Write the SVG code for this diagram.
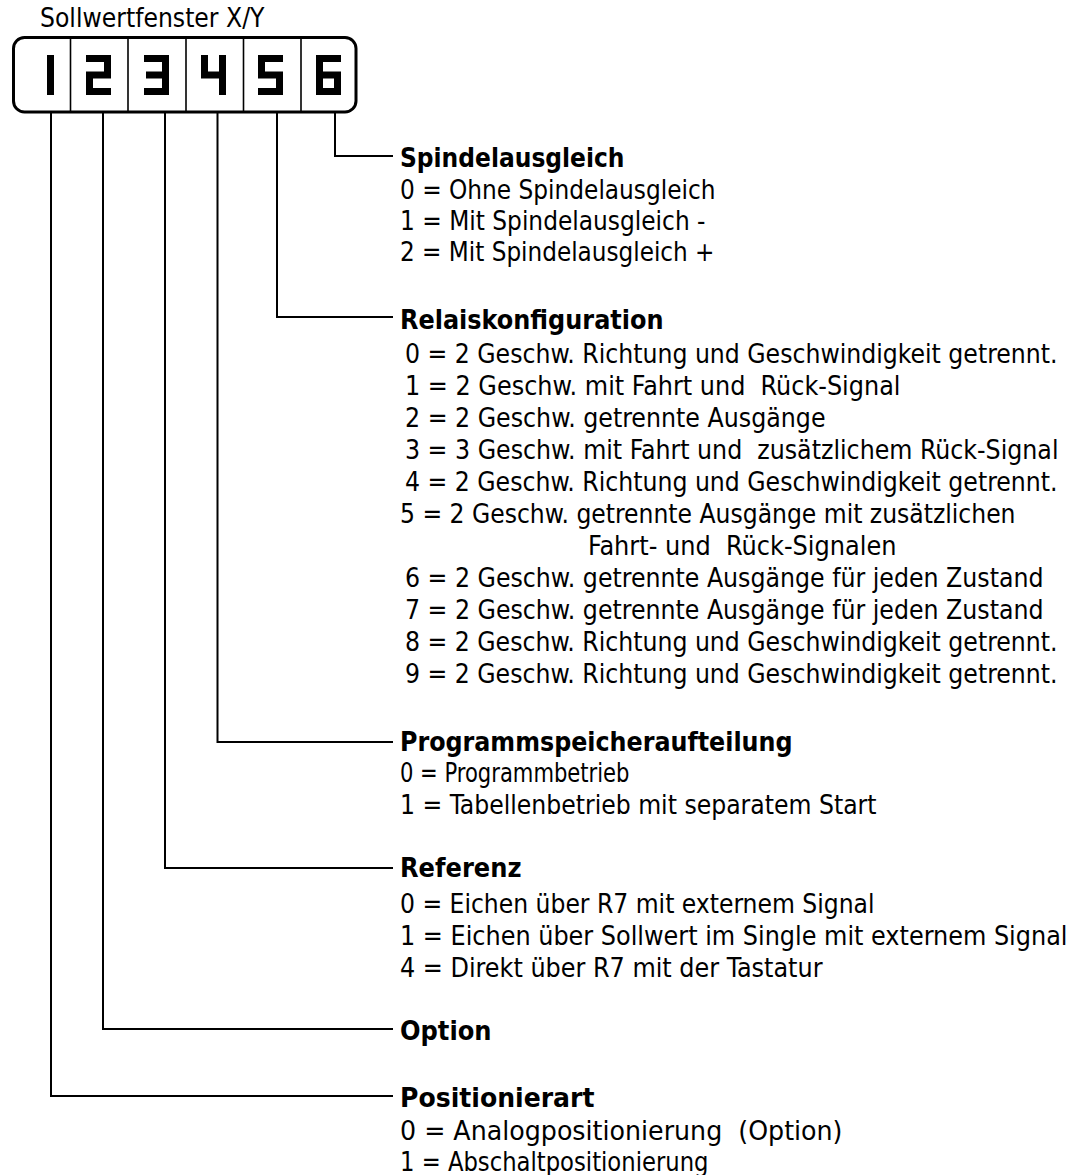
<svg xmlns="http://www.w3.org/2000/svg" width="1070" height="1175" viewBox="0 0 1070 1175">
<style>
text{font-family:"DejaVu Sans Condensed","DejaVu Sans",sans-serif;font-stretch:condensed;font-size:26px;fill:#000;white-space:pre}
.h{font-weight:bold}
.seg{fill:none;stroke:#000;stroke-width:7;stroke-linejoin:miter;stroke-linecap:butt}
.ln{fill:none;stroke:#000;stroke-width:2}
</style>
<rect width="1070" height="1175" fill="#fff"/>
<g id="display">
<text x="40" y="27" textLength="224.5" lengthAdjust="spacingAndGlyphs">Sollwertfenster X/Y</text>
<rect x="13.5" y="37.5" width="342.5" height="74.5" rx="11" fill="none" stroke="#000" stroke-width="3"/>
<g stroke="#000" stroke-width="1.6">
<line x1="70.5" y1="39" x2="70.5" y2="111"/>
<line x1="128" y1="39" x2="128" y2="111"/>
<line x1="186" y1="39" x2="186" y2="111"/>
<line x1="243.5" y1="39" x2="243.5" y2="111"/>
<line x1="301" y1="39" x2="301" y2="111"/>
</g>
<rect x="47" y="55" width="7" height="40"/>
<path class="seg" d="M86,58.5H107.5V75H89.5V91.5H111"/>
<path class="seg" d="M144,58.5H165.5V91.5H144M146,75H165.5"/>
<path class="seg" d="M204.5,55V75H222.5M222.5,55V95"/>
<path class="seg" d="M283,58.5H261.5V75H279.5V91.5H258"/>
<path class="seg" d="M341,58.5H319.5V91.5H337.5V75H319.5"/>
</g>
<g id="connectors" class="ln">
<polyline points="335,113 335,156 393,156"/>
<polyline points="277,113 277,317 393,317"/>
<polyline points="217.5,113 217.5,742 393,742"/>
<polyline points="165,113 165,868 393,868"/>
<polyline points="103,113 103,1029 393,1029"/>
<polyline points="51,113 51,1096 393,1096"/>
</g>
<g id="spindelausgleich">
<text class="h" x="400" y="166.5" textLength="224.5" lengthAdjust="spacingAndGlyphs">Spindelausgleich</text>
<text x="400" y="199" textLength="315.5" lengthAdjust="spacingAndGlyphs">0 = Ohne Spindelausgleich</text>
<text x="400" y="230" textLength="305.5" lengthAdjust="spacingAndGlyphs">1 = Mit Spindelausgleich -</text>
<text x="400" y="261" textLength="314.5" lengthAdjust="spacingAndGlyphs">2 = Mit Spindelausgleich +</text>
</g>
<g id="relaiskonfiguration">
<text class="h" x="400" y="329" textLength="263.5" lengthAdjust="spacingAndGlyphs">Relaiskonfiguration</text>
<text x="405" y="363" textLength="652.5" lengthAdjust="spacingAndGlyphs">0 = 2 Geschw. Richtung und Geschwindigkeit getrennt.</text>
<text x="405" y="395" textLength="495.5" lengthAdjust="spacingAndGlyphs">1 = 2 Geschw. mit Fahrt und  Rück-Signal</text>
<text x="405" y="427" textLength="420.5" lengthAdjust="spacingAndGlyphs">2 = 2 Geschw. getrennte Ausgänge</text>
<text x="405" y="459" textLength="653.5" lengthAdjust="spacingAndGlyphs">3 = 3 Geschw. mit Fahrt und  zusätzlichem Rück-Signal</text>
<text x="405" y="491" textLength="652.5" lengthAdjust="spacingAndGlyphs">4 = 2 Geschw. Richtung und Geschwindigkeit getrennt.</text>
<text x="400" y="523" textLength="615.5" lengthAdjust="spacingAndGlyphs">5 = 2 Geschw. getrennte Ausgänge mit zusätzlichen</text>
<text x="588" y="555" textLength="308.5" lengthAdjust="spacingAndGlyphs">Fahrt- und  Rück-Signalen</text>
<text x="405" y="587" textLength="638.5" lengthAdjust="spacingAndGlyphs">6 = 2 Geschw. getrennte Ausgänge für jeden Zustand</text>
<text x="405" y="619" textLength="638.5" lengthAdjust="spacingAndGlyphs">7 = 2 Geschw. getrennte Ausgänge für jeden Zustand</text>
<text x="405" y="651" textLength="652.5" lengthAdjust="spacingAndGlyphs">8 = 2 Geschw. Richtung und Geschwindigkeit getrennt.</text>
<text x="405" y="683" textLength="652.5" lengthAdjust="spacingAndGlyphs">9 = 2 Geschw. Richtung und Geschwindigkeit getrennt.</text>
</g>
<g id="programmspeicheraufteilung">
<text class="h" x="400" y="751" textLength="392.5" lengthAdjust="spacingAndGlyphs">Programmspeicheraufteilung</text>
<text x="400" y="782" textLength="229.5" lengthAdjust="spacingAndGlyphs">0 = Programmbetrieb</text>
<text x="400" y="814" textLength="476.5" lengthAdjust="spacingAndGlyphs">1 = Tabellenbetrieb mit separatem Start</text>
</g>
<g id="referenz">
<text class="h" x="400" y="877" textLength="121.5" lengthAdjust="spacingAndGlyphs">Referenz</text>
<text x="400" y="913" textLength="474.5" lengthAdjust="spacingAndGlyphs">0 = Eichen über R7 mit externem Signal</text>
<text x="400" y="945" textLength="667.5" lengthAdjust="spacingAndGlyphs">1 = Eichen über Sollwert im Single mit externem Signal</text>
<text x="400" y="977" textLength="422.5" lengthAdjust="spacingAndGlyphs">4 = Direkt über R7 mit der Tastatur</text>
</g>
<g id="option">
<text class="h" x="400" y="1040" textLength="91.5" lengthAdjust="spacingAndGlyphs">Option</text>
</g>
<g id="positionierart">
<text class="h" x="400" y="1106.5" textLength="194.5" lengthAdjust="spacingAndGlyphs">Positionierart</text>
<text x="400" y="1140" textLength="442.5" lengthAdjust="spacingAndGlyphs">0 = Analogpositionierung  (Option)</text>
<text x="400" y="1170.5" textLength="308.5" lengthAdjust="spacingAndGlyphs">1 = Abschaltpositionierung</text>
</g>
</svg>
